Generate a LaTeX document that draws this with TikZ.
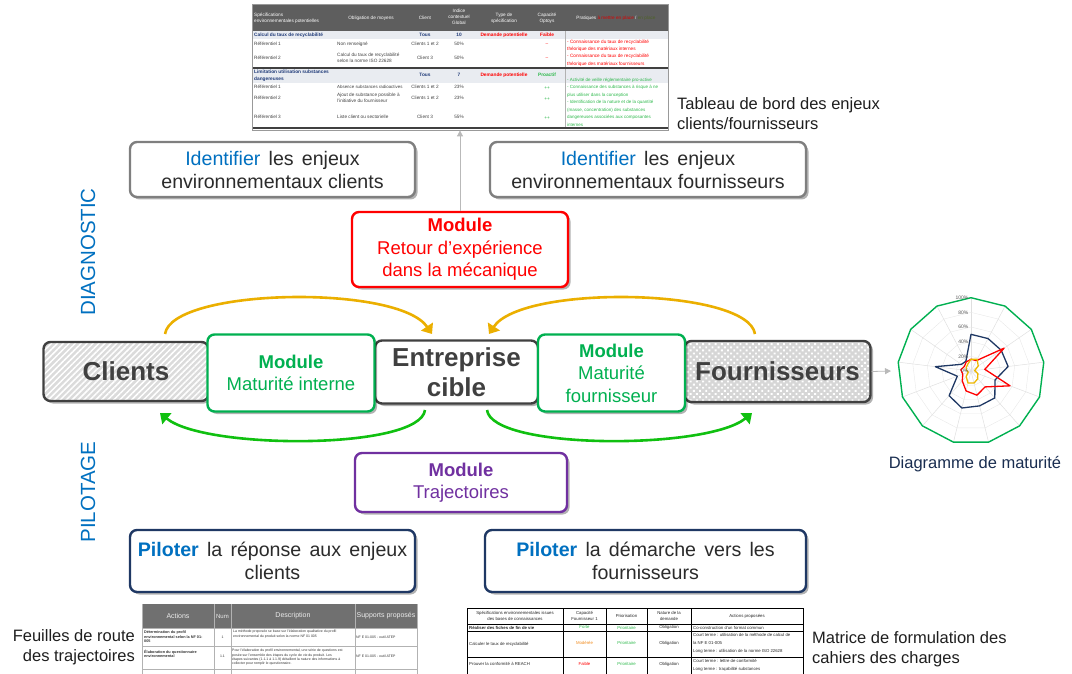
\documentclass[tikz,border=0pt]{standalone}
\usepackage{fontspec}
\setmainfont{Liberation Sans}
\usetikzlibrary{shadows,patterns.meta,arrows.meta,calc}
\newcommand\mywsp{\spaceskip=0.42em plus 0.1em\relax}
\definecolor{dgray}{HTML}{404040}
\definecolor{txt}{HTML}{2B2B2B}
\definecolor{bblue}{HTML}{0070C0}
\definecolor{mgreen}{HTML}{00B050}
\definecolor{mred}{HTML}{FF0000}
\definecolor{mpurple}{HTML}{7030A0}
\definecolor{navy}{HTML}{1F3864}
\definecolor{gbord}{HTML}{7F7F7F}
\definecolor{goldc}{HTML}{EBAF00}
\definecolor{agreen}{HTML}{10C010}
\definecolor{thead}{HTML}{5E5E5E}
\definecolor{trow}{HTML}{E9ECF1}
\definecolor{tnavy}{HTML}{1F3A78}
\definecolor{tgreen}{HTML}{2DB84B}
\definecolor{torange}{HTML}{F08A1C}
\definecolor{tolive}{HTML}{4F6228}
\definecolor{lbl}{HTML}{1E1E1E}
\tikzset{
  box/.style={rounded corners=7pt, line width=2.4pt, fill=white,
    drop shadow={shadow xshift=2.5pt,shadow yshift=-2.5pt,opacity=0.3,fill=black},
    inner sep=0pt, align=center},
  graybox/.style={box, draw=gbord, text=txt, font=\fontsize{19.6}{23}\selectfont},
  navybox/.style={box, draw=navy, text=txt, font=\fontsize{19.6}{23}\selectfont},
  modbox/.style={box, font=\fontsize{18.5}{22.5}\selectfont},
  bigbox/.style={box, draw=dgray, text=dgray, font=\fontsize{26}{30}\selectfont\bfseries},
  gold arrow/.style={draw=goldc, line width=2.6pt, -{Triangle[length=9pt,width=14pt]}},
  green arrow/.style={draw=agreen, line width=2.6pt, -{Triangle[length=9pt,width=14pt]}},
  side/.style={font=\fontsize{16.5}{20}\selectfont, text=lbl, inner sep=0pt},
  tt/.style={font=\fontsize{4.7}{5.8}\selectfont, inner sep=0pt, text=black!75},
  ttw/.style={tt, anchor=west, align=left},
  ttc/.style={tt, anchor=center, align=center},
  ts/.style={font=\fontsize{3.5}{4.3}\selectfont, inner sep=0pt, text=black!80, anchor=west, align=left},
  series/.style={line width=1.3pt, line join=round}
}
\begin{document}
\begin{tikzpicture}[x=1pt,y=-1pt]
\useasboundingbox (0,0) rectangle (1072,674);

% ================= top table =================
\fill[thead] (252,4) rectangle (668,31);
\fill[trow] (252,31) rectangle (668,39);
\fill[trow] (252,69) rectangle (668,83);
\draw[gray!60, line width=0.4pt] (565,31) -- (565,128);
\draw[dgray, line width=1.2pt] (252,68) -- (668,68);
\draw[dgray, line width=1.2pt] (252,128) -- (668,128);
\node[draw=gray!80, line width=0.8pt, minimum width=416pt, minimum height=126pt, inner sep=0pt] (tab1) at (460,67) {};
\begin{scope}[every node/.append style={text=white, font=\fontsize{5}{7}\selectfont\bfseries}]
\node[ttw, text=white] (h1) at (254,18) {Spécifications\\environnementales potentielles};
\node[ttc, text=white] (h2) at (371,18) {Obligation de moyens};
\node[ttc, text=white] (h3) at (425,18) {Client};
\node[ttc, text=white] (h4) at (459,17) {Indice\\contextuel\\Global};
\node[ttc, text=white] (h5) at (504,18) {Type de\\spécification};
\node[ttc, text=white] (h6) at (547,18) {Capacité\\Optoys};
\node[ttc, text=white] (h7) at (616,18) {Pratiques \textcolor{red!85!black}{à mettre en place} / \textcolor{tolive}{en place}};
\end{scope}
% row group 1
\node[ttw, text=tnavy, font=\fontsize{4.8}{6}\selectfont\bfseries] (r1a) at (254,35) {Calcul du taux de recyclabilité};
\node[ttc, text=tnavy, font=\fontsize{4.8}{6}\selectfont\bfseries] (r1b) at (425,35) {Tous};
\node[ttc, text=tnavy, font=\fontsize{4.8}{6}\selectfont\bfseries] (r1c) at (459,35) {10};
\node[ttc, text=red, font=\fontsize{4.8}{6}\selectfont\bfseries] (r1d) at (504,35) {Demande potentielle};
\node[ttc, text=red, font=\fontsize{4.8}{6}\selectfont\bfseries] (r1e) at (547,35) {Faible};
\node[ttw] (r2a) at (254,44) {Référentiel 1};
\node[ttw] (r2b) at (337,44) {Non renseigné};
\node[ttc] (r2c) at (425,44) {Clients 1 et 2};
\node[ttc] (r2d) at (459,44) {50\%};
\node[ttc, text=red] (r2e) at (547,45) {--};
\node[ttw] (r3a) at (254,58) {Référentiel 2};
\node[ttw] (r3b) at (337,58) {Calcul du taux de recyclabilité\\selon la norme ISO 22628};
\node[ttc] (r3c) at (425,58) {Client 3};
\node[ttc] (r3d) at (459,58) {50\%};
\node[ttc, text=red] (r3e) at (547,59) {--};
\node[ttw, text=red, font=\fontsize{4.7}{7.4}\selectfont] (r1p) at (567,53) {- Connaissance du taux de recyclabilité\\théorique des matériaux internes\\- Connaissance du taux de recyclabilité\\théorique des matériaux fournisseurs};
% row group 2
\node[ttw, text=tnavy, font=\fontsize{4.8}{7}\selectfont\bfseries] (s1a) at (254,75.5) {Limitation utilisation substances\\dangereuses};
\node[ttc, text=tnavy, font=\fontsize{4.8}{6}\selectfont\bfseries] (s1b) at (425,75) {Tous};
\node[ttc, text=tnavy, font=\fontsize{4.8}{6}\selectfont\bfseries] (s1c) at (459,75) {7};
\node[ttc, text=red, font=\fontsize{4.8}{6}\selectfont\bfseries] (s1d) at (504,75) {Demande potentielle};
\node[ttc, text=tgreen, font=\fontsize{4.8}{6}\selectfont\bfseries] (s1e) at (547,75) {Proactif};
\node[ttw] (s2a) at (254,87) {Référentiel 1};
\node[ttw, font=\fontsize{4.4}{5.8}\selectfont] (s2b) at (337,87) {Absence substances radioactives};
\node[ttc] (s2c) at (425,87) {Clients 1 et 2};
\node[ttc] (s2d) at (459,87) {23\%};
\node[ttc, text=tgreen] (s2e) at (547,88) {++};
\node[ttw] (s3a) at (254,98) {Référentiel 2};
\node[ttw] (s3b) at (337,98) {Ajout de substance possible à\\l’initiative du fournisseur};
\node[ttc] (s3c) at (425,98) {Clients 1 et 2};
\node[ttc] (s3d) at (459,98) {23\%};
\node[ttc, text=tgreen] (s3e) at (547,99) {++};
\node[ttw] (s4a) at (254,117) {Référentiel 3};
\node[ttw] (s4b) at (337,117) {Liste client ou sectorielle};
\node[ttc] (s4c) at (425,117) {Client 3};
\node[ttc] (s4d) at (459,117) {55\%};
\node[ttc, text=tgreen] (s4e) at (547,118) {++};
\node[ttw, text=tgreen, font=\fontsize{4.5}{7.5}\selectfont] (s1p) at (567,102) {- Activité de veille réglementaire pro-active\\- Connaissance des substances à risque à ne\\plus utiliser dans la conception\\- Identification de la nature et de la quantité\\(masse, concentration) des substances\\dangereuses associées aux composantes\\internes};

\node[side, anchor=west, align=left] (tablbl) at (677,114) {Tableau de bord des enjeux\\clients/fournisseurs};

% ================= side titles =================
\node[rotate=90, text=bblue, font=\fontsize{20.5}{24}\selectfont, inner sep=0pt] (diag) at (88,252) {DIAGNOSTIC};
\node[rotate=90, text=bblue, font=\fontsize{20.5}{24}\selectfont, inner sep=0pt] (pilot) at (88,492) {PILOTAGE};

% ================= boxes =================
\node[graybox, minimum width=285pt, minimum height=55pt] (idcl) at (272.5,169.5)
  {\mywsp\textcolor{bblue}{Identifier} les enjeux\\environnementaux clients};
\node[graybox, minimum width=316pt, minimum height=55pt] (idfo) at (648,169.5)
  {\mywsp\textcolor{bblue}{Identifier} les enjeux\\environnementaux fournisseurs};

\node[modbox, draw=mred, text=mred, minimum width=216pt, minimum height=75pt] (redmod) at (460,249.5)
  {\textbf{Module}\\Retour d’expérience\\dans la mécanique};

\draw[gray!55, line width=0.8pt, -{Triangle[length=6pt,width=6pt]}] (redmod.north) -- (redmod.north |- tab1.south);

% central row
\node[bigbox, minimum width=165pt, minimum height=59pt,
      preaction={fill=gray!28},
      pattern={Lines[angle=45,distance=4.2pt,line width=1.5pt]}, pattern color=white] (clients) at (126,371.5) {Clients};
\node[bigbox, minimum width=163pt, minimum height=63pt] (entr) at (456.5,372) {Entreprise\\cible};
\node[bigbox, minimum width=186pt, minimum height=61pt,
      preaction={fill=gray!32},
      pattern={Dots[distance=4.4pt,radius=1.35pt,angle=45]}, pattern color=white] (fourn) at (777.5,371.5) {Fournisseurs};
\node[modbox, draw=mgreen, text=mgreen, minimum width=167pt, minimum height=77pt] (matint) at (291,373)
  {\textbf{Module}\\Maturité interne};
\node[modbox, draw=mgreen, text=mgreen, minimum width=147pt, minimum height=77pt] (matfo) at (611.5,373)
  {\textbf{Module}\\Maturité\\fournisseur};

% curved arrows
\coordinate (ga1) at (165,334);
\coordinate (ga2) at (432,334);
\coordinate (gb1) at (755,334);
\coordinate (gb2) at (489,334);
\coordinate (gc1) at (425,410);
\coordinate (gc2) at (160,413);
\coordinate (gd1) at (487,410);
\coordinate (gd2) at (752,413);
\draw[gold arrow] (ga1) .. controls (172,288) and (398,284) .. (ga2);
\draw[gold arrow] (gb1) .. controls (748,288) and (522,284) .. (gb2);
\draw[green arrow] (gc1) .. controls (420,450) and (205,450) .. (gc2);
\draw[green arrow] (gd1) .. controls (492,450) and (707,450) .. (gd2);

\node[modbox, draw=mpurple, text=mpurple, minimum width=212pt, minimum height=59pt] (traj) at (461,482.5)
  {\textbf{Module}\\Trajectoires};

\node[navybox, minimum width=285pt, minimum height=62pt] (pilcl) at (272.5,561)
  {\mywsp\textcolor{bblue}{\textbf{Piloter}} la réponse aux enjeux\\clients};
\node[navybox, minimum width=321pt, minimum height=62pt] (pilfo) at (645.5,561)
  {\mywsp\textcolor{bblue}{\textbf{Piloter}} la démarche vers les\\fournisseurs};

% ================= radar chart =================
\coordinate (rc) at (971,371);
\coordinate (rw) at (891,371);
\draw[gray!55, line width=0.8pt, -{Triangle[length=6pt,width=6pt]}] (fourn.east) -- (rw);
\foreach \k in {0,...,12} {
  \draw[gray!25, line width=0.5pt] (rc) -- ({971+73.3*sin(\k*360/13)},{371-73.3*cos(\k*360/13)});
}
\foreach \r in {14.66,29.32,43.98,58.64} {
  \draw[gray!18, line width=0.4pt] ({971},{371-\r}) \foreach \k in {1,...,12} { -- ({971+\r*sin(\k*360/13)},{371-\r*cos(\k*360/13)}) } -- cycle;
}
\draw[mgreen, line width=1.4pt, line join=round] ({971},{371-73.3}) \foreach \k in {1,...,12} { -- ({971+73.3*sin(\k*360/13)},{371-73.3*cos(\k*360/13)}) } -- cycle;
\draw[series, navy] ({971},{371-0.733*50}) \foreach \v [count=\k] in {50,50,51,35,49,49,52,45,20,49,16,15} { -- ({971+0.733*\v*sin(\k*360/13)},{371-0.733*\v*cos(\k*360/13)}) } -- cycle;
\draw[series, red] ({971},{371-0.733*16}) \foreach \v [count=\k] in {16,55,19,57,29,34,28,18,12,14,11,14} { -- ({971+0.733*\v*sin(\k*360/13)},{371-0.733*\v*cos(\k*360/13)}) } -- cycle;
\draw[series, goldc!90!yellow] ({971},{371-0.733*16}) \foreach \v [count=\k] in {18,12,5,10,14,17,17,10,4,6,8,10} { -- ({971+0.733*\v*sin(\k*360/13)},{371-0.733*\v*cos(\k*360/13)}) } -- cycle;
\foreach \p [count=\j from 0] in {0,20,40,60,80,100} {
  \node[font=\fontsize{5}{5.5}\selectfont, text=black!65, anchor=east, inner sep=0.5pt] (pl\j) at (969,{371-0.733*\p}) {\p\%};
}
\node[side, text=navy!80!black, anchor=center] (radlbl) at (975,464) {Diagramme de maturité};

% ================= bottom left table =================
\fill[gray!60!black!80] (142,604) rectangle (417,628);
\node[minimum width=275pt, minimum height=70pt, inner sep=0pt] (tab2) at (279.5,639) {};
\foreach \xx in {142,214,231,355,417} { \draw[gray!60, line width=0.6pt] (\xx,604) -- (\xx,674); }
\foreach \yy in {628,646,669} { \draw[gray!60, line width=0.6pt] (142,\yy) -- (417,\yy); }
\node[font=\fontsize{7}{8}\selectfont, text=white!85!gray, inner sep=0pt] (a1) at (178,616) {Actions};
\node[font=\fontsize{6}{8}\selectfont, text=white!85!gray, inner sep=0pt] (a2) at (222.5,616) {Num};
\node[font=\fontsize{7}{8}\selectfont, text=white!85!gray, inner sep=0pt] (a3) at (293,616) {Description};
\node[font=\fontsize{7}{8}\selectfont, text=white!85!gray, inner sep=0pt] (a4) at (386,616) {Supports proposés};
\node[ts, font=\fontsize{3.8}{4.6}\selectfont\bfseries] (b1) at (144,637) {Détermination du profil\\environnemental selon la NF 01-\\005};
\node[ts, anchor=center] (b2) at (222.5,637) {1};
\node[ts] (b3) at (233,634) {La méthode proposée se base sur l’élaboration qualitative du profil\\environnemental du produit selon la norme NF 01 005};
\node[ts] (b4) at (356,637) {NF E 01-005 - outil ATEP};
\node[ts, font=\fontsize{3.8}{4.6}\selectfont\bfseries] (c1) at (144,654) {Élaboration du questionnaire\\environnemental};
\node[ts, anchor=center] (c2) at (222.5,656) {1.1};
\node[ts] (c3) at (232,657.5) {Pour l’élaboration du profil environnemental, une série de questions est\\posée sur l’ensemble des étapes du cycle de vie du produit. Les\\étapes suivantes (1.1.1 à 1.1.9) détaillent la nature des informations à\\collecter pour remplir le questionnaire.};
\node[ts] (c4) at (356,656) {NF E 01-005 - outil ATEP};
\node[side, anchor=east, align=right] (feuil) at (135,647) {Feuilles de route\\des trajectoires};

% ================= bottom right table =================
\node[minimum width=336pt, minimum height=66pt, inner sep=0pt] (tab3) at (635,641) {};
\foreach \xx in {467,563,606,647,691,803} { \draw[black, line width=0.7pt] (\xx,608) -- (\xx,674); }
\foreach \yy in {608,624,631,657} { \draw[black, line width=0.7pt] (467,\yy) -- (803,\yy); }
\begin{scope}[every node/.style={font=\fontsize{4.3}{5.4}\selectfont, inner sep=0pt, text=black!85, align=center}]
\node (m1) at (515,616) {Spécifications environnementales issues\\des bases de connaissances};
\node (m2) at (584.5,616) {Capacité\\Fournisseur 1};
\node (m3) at (626.5,616) {Priorisation};
\node (m4) at (669,616) {Nature de la\\demande};
\node (m5) at (747,616) {Actions proposées};
\node[anchor=west, font=\fontsize{4.3}{5.4}\selectfont\bfseries] (n1) at (469,627.5) {Réaliser des fiches de fin de vie};
\node[text=tgreen] (n2) at (584.5,627.5) {Forte};
\node[text=tgreen] (n3) at (626.5,627.5) {Prioritaire};
\node (n4) at (669,627.5) {Obligation};
\node[anchor=west] (n5) at (693,627.5) {Co-construction d’un format commun};
\node[anchor=west] (o1) at (469,644) {Calculer le taux de recyclabilité};
\node[text=torange] (o2) at (584.5,643) {Modérée};
\node[text=tgreen] (o3) at (626.5,643) {Prioritaire};
\node (o4) at (669,643) {Obligation};
\node[anchor=west, align=left, font=\fontsize{4.3}{8}\selectfont] (o5) at (693,643) {Court terme : utilisation de la méthode de calcul de\\la NF E 01-005\\Long terme : utilisation de la norme ISO 22628};
\node[anchor=west] (p1) at (469,664) {Prouver la conformité à REACH};
\node[text=red] (p2) at (584.5,664) {Faible};
\node[text=tgreen] (p3) at (626.5,664) {Prioritaire};
\node (p4) at (669,664) {Obligation};
\node[anchor=west, align=left, font=\fontsize{4.3}{8}\selectfont] (p5) at (693,665) {Court terme : lettre de conformité\\Long terme : traçabilité substances};
\end{scope}
\node[side, anchor=west, align=left] (matr) at (812,649) {Matrice de formulation des\\cahiers des charges};
\end{tikzpicture}
\end{document}
